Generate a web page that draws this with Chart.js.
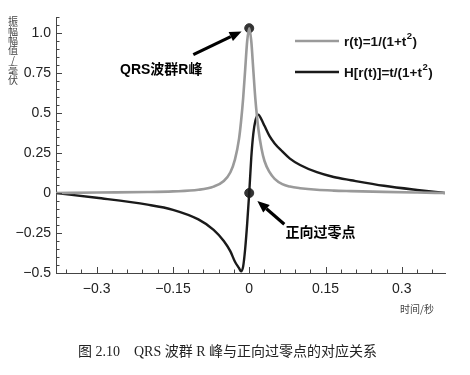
<!DOCTYPE html>
<html>
<head>
<meta charset="utf-8">
<script src="https://cdn.jsdelivr.net/npm/chart.js@4"></script>
<style>
    body { margin: 0; background: #fff; }
    #wrap { position: relative; width: 470px; height: 375px; }
    #chart { position: absolute; left: 0; top: 0; }
    .xlab { position: absolute; left: 400px; top: 301px; font: 10px 'Noto Sans CJK SC', sans-serif; color: #444; }
    .caption { position: absolute; left: 78px; top: 340px; font: 14px 'Liberation Serif', 'Noto Sans CJK SC', serif; color: #222; white-space: pre; }
</style>
</head>
<body>
<div id="wrap">
    <canvas id="chart" width="470" height="375"></canvas>
    <div class="xlab">时间/秒</div>
    <div class="caption">图 2.10    QRS 波群 R 峰与正向过零点的对应关系</div>
</div>
<script>
// 시간축 (초)
const times = [-0.38, -0.3, -0.2, -0.15, -0.1, -0.07, -0.05, -0.037, -0.028, -0.02, -0.016, -0.012, -0.008, -0.004,
    0, 0.004, 0.008, 0.012, 0.018, 0.024, 0.03, 0.04, 0.05, 0.065, 0.08, 0.1, 0.133, 0.166, 0.2, 0.265, 0.33, 0.385];

// r(t) 회색 곡선
const rValues = [0.0, 0.003, 0.006, 0.01, 0.02, 0.04, 0.075, 0.13, 0.21, 0.34, 0.45, 0.59, 0.77, 0.95,
    1.03, 0.95, 0.77, 0.59, 0.4, 0.28, 0.2, 0.13, 0.088, 0.055, 0.04, 0.03, 0.02, 0.015, 0.012, 0.007, 0.003, 0.0];

// H[r(t)] 검은 곡선
const hValues = [0.0, -0.03, -0.073, -0.105, -0.165, -0.23, -0.3, -0.365, -0.43, -0.47, -0.49, -0.46, -0.35, -0.19,
    0.0, 0.22, 0.37, 0.45, 0.49, 0.46, 0.42, 0.355, 0.31, 0.26, 0.215, 0.175, 0.13, 0.1, 0.08, 0.045, 0.019, 0.0];

// 표시점 (R 피크, 영점 교차)
const markerTimes = [0, 0];
const markerValues = [1.03, 0];

const xMajorTicks = [-0.3, -0.15, 0, 0.15, 0.3];
const yMajorTicks = [-0.5, -0.25, 0, 0.25, 0.5, 0.75, 1.0];

const legendLabels = ['r(t)=1/(1+t', 'H[r(t)]=t/(1+t'];
const yTitle = ['振', '幅', '幅', '值', '/', '毫', '伏'];

const GRAY = '#9a9a9a';
const BLACK = '#1a1a1a';
const LATIN = "'Liberation Sans', 'Noto Sans CJK SC', sans-serif";

function toPoints(xs, ys) {
    return xs.map((x, i) => ({ x: x, y: ys[i] }));
}

function minorList(from, to, step) {
    const out = [];
    for (let v = from; v <= to + 1e-9; v += step) out.push(Math.round(v * 1000) / 1000);
    return out;
}

const xMinorTicks = minorList(-0.36, 0.36, 0.03);
const yMinorTicks = minorList(-0.5, 1.1, 0.05);

function fmt(v) {
    if (v === 1) return '1.0';
    return String(v).replace('-', '\u2212');
}

function drawArrow(ctx, x1, y1, x2, y2) {
    const ang = Math.atan2(y2 - y1, x2 - x1);
    const head = 12, half = 5;
    const bx = x2 - head * Math.cos(ang), by = y2 - head * Math.sin(ang);
    ctx.beginPath();
    ctx.moveTo(x1, y1);
    ctx.lineTo(bx, by);
    ctx.lineWidth = 3.2;
    ctx.strokeStyle = '#000';
    ctx.stroke();
    ctx.beginPath();
    ctx.moveTo(x2, y2);
    ctx.lineTo(bx + half * Math.sin(ang), by - half * Math.cos(ang));
    ctx.lineTo(bx - half * Math.sin(ang), by + half * Math.cos(ang));
    ctx.closePath();
    ctx.fillStyle = '#000';
    ctx.fill();
}

const decorPlugin = {
    id: 'decor',
    afterDraw(chart) {
        const ctx = chart.ctx;
        const xs = chart.scales.x, ys = chart.scales.y;
        const area = chart.chartArea;
        ctx.save();

        // 안쪽 눈금
        ctx.strokeStyle = '#444';
        ctx.lineWidth = 1;
        xMinorTicks.concat(xMajorTicks).forEach(v => {
            const px = Math.round(xs.getPixelForValue(v)) + 0.5;
            const len = xMajorTicks.includes(v) ? 6 : 3.5;
            ctx.beginPath();
            ctx.moveTo(px, area.bottom);
            ctx.lineTo(px, area.bottom - len);
            ctx.stroke();
        });
        yMinorTicks.concat(yMajorTicks).forEach(v => {
            const py = Math.round(ys.getPixelForValue(v)) + 0.5;
            const len = yMajorTicks.includes(v) ? 6 : 3.5;
            ctx.beginPath();
            ctx.moveTo(area.left, py);
            ctx.lineTo(area.left + len, py);
            ctx.stroke();
        });

        // 세로축 제목 (글자를 세로로 쌓음)
        ctx.fillStyle = '#444';
        ctx.textAlign = 'center';
        ctx.textBaseline = 'middle';
        ctx.font = "10px 'Noto Sans CJK SC', sans-serif";
        yTitle.forEach((ch, i) => {
            ctx.fillText(ch, 13, 21 + i * 9.8);
        });

        // 화살표
        drawArrow(ctx, xs.getPixelForValue(-0.11), ys.getPixelForValue(0.865),
            xs.getPixelForValue(-0.015), ys.getPixelForValue(1.01));
        drawArrow(ctx, xs.getPixelForValue(0.069), ys.getPixelForValue(-0.195),
            xs.getPixelForValue(0.016), ys.getPixelForValue(-0.05));

        // 주석 텍스트
        ctx.fillStyle = '#000';
        ctx.font = "bold 14px " + LATIN;
        ctx.fillText('QRS波群R峰', xs.getPixelForValue(-0.173), ys.getPixelForValue(0.765));
        ctx.fillText('正向过零点', xs.getPixelForValue(0.14), ys.getPixelForValue(-0.25));

        // 범례
        const rows = [{ y: 41, color: GRAY, w: 2.6 }, { y: 72, color: BLACK, w: 2.4 }];
        rows.forEach((row, i) => {
            ctx.beginPath();
            ctx.moveTo(295, row.y);
            ctx.lineTo(339, row.y);
            ctx.strokeStyle = row.color;
            ctx.lineWidth = row.w;
            ctx.stroke();
            ctx.textAlign = 'left';
            ctx.fillStyle = '#111';
            ctx.font = "bold 13.5px " + LATIN;
            let x = 344;
            ctx.fillText(legendLabels[i], x, row.y + 1);
            x += ctx.measureText(legendLabels[i]).width;
            ctx.font = "bold 9.5px " + LATIN;
            ctx.fillText('2', x + 0.5, row.y - 5);
            x += ctx.measureText('2').width + 1;
            ctx.font = "bold 13.5px " + LATIN;
            ctx.fillText(')', x, row.y + 1);
        });
        ctx.restore();
    }
};

const chart = new Chart(document.getElementById('chart').getContext('2d'), {
    type: 'line',
    data: {
        datasets: [
            {
                label: 'r(t)',
                data: toPoints(times, rValues),
                borderColor: GRAY,
                borderWidth: 2.6,
                pointRadius: 0,
                cubicInterpolationMode: 'monotone'
            },
            {
                label: 'H[r(t)]',
                data: toPoints(times, hValues),
                borderColor: BLACK,
                borderWidth: 2.4,
                pointRadius: 0,
                cubicInterpolationMode: 'monotone'
            },
            {
                type: 'scatter',
                label: 'markers',
                data: toPoints(markerTimes, markerValues),
                pointRadius: 4.5,
                pointBackgroundColor: '#333',
                pointBorderColor: '#333',
                showLine: false
            }
        ]
    },
    options: {
        responsive: false,
        animation: false,
        devicePixelRatio: 1,
        layout: { padding: { left: 0, top: 17, right: 25, bottom: 0 } },
        plugins: { legend: { display: false }, tooltip: { enabled: false } },
        scales: {
            x: {
                type: 'linear',
                min: -0.38,
                max: 0.385,
                afterFit: s => { s.height = 102; },
                afterBuildTicks: s => { s.ticks = xMajorTicks.map(v => ({ value: v })); },
                grid: { display: false, drawTicks: false },
                border: { display: true, color: '#444', width: 1 },
                ticks: {
                    padding: 8,
                    color: '#222',
                    font: { family: 'Liberation Sans', size: 14 },
                    maxRotation: 0,
                    callback: v => fmt(v)
                }
            },
            y: {
                type: 'linear',
                min: -0.5,
                max: 1.1,
                afterFit: s => { s.width = 56; },
                afterBuildTicks: s => { s.ticks = yMajorTicks.map(v => ({ value: v })); },
                grid: { display: false, drawTicks: false },
                border: { display: true, color: '#444', width: 1 },
                ticks: {
                    padding: 5,
                    color: '#222',
                    font: { family: 'Liberation Sans', size: 14 },
                    callback: v => fmt(v)
                }
            }
        }
    },
    plugins: [decorPlugin]
});
</script>
</body>
</html>
